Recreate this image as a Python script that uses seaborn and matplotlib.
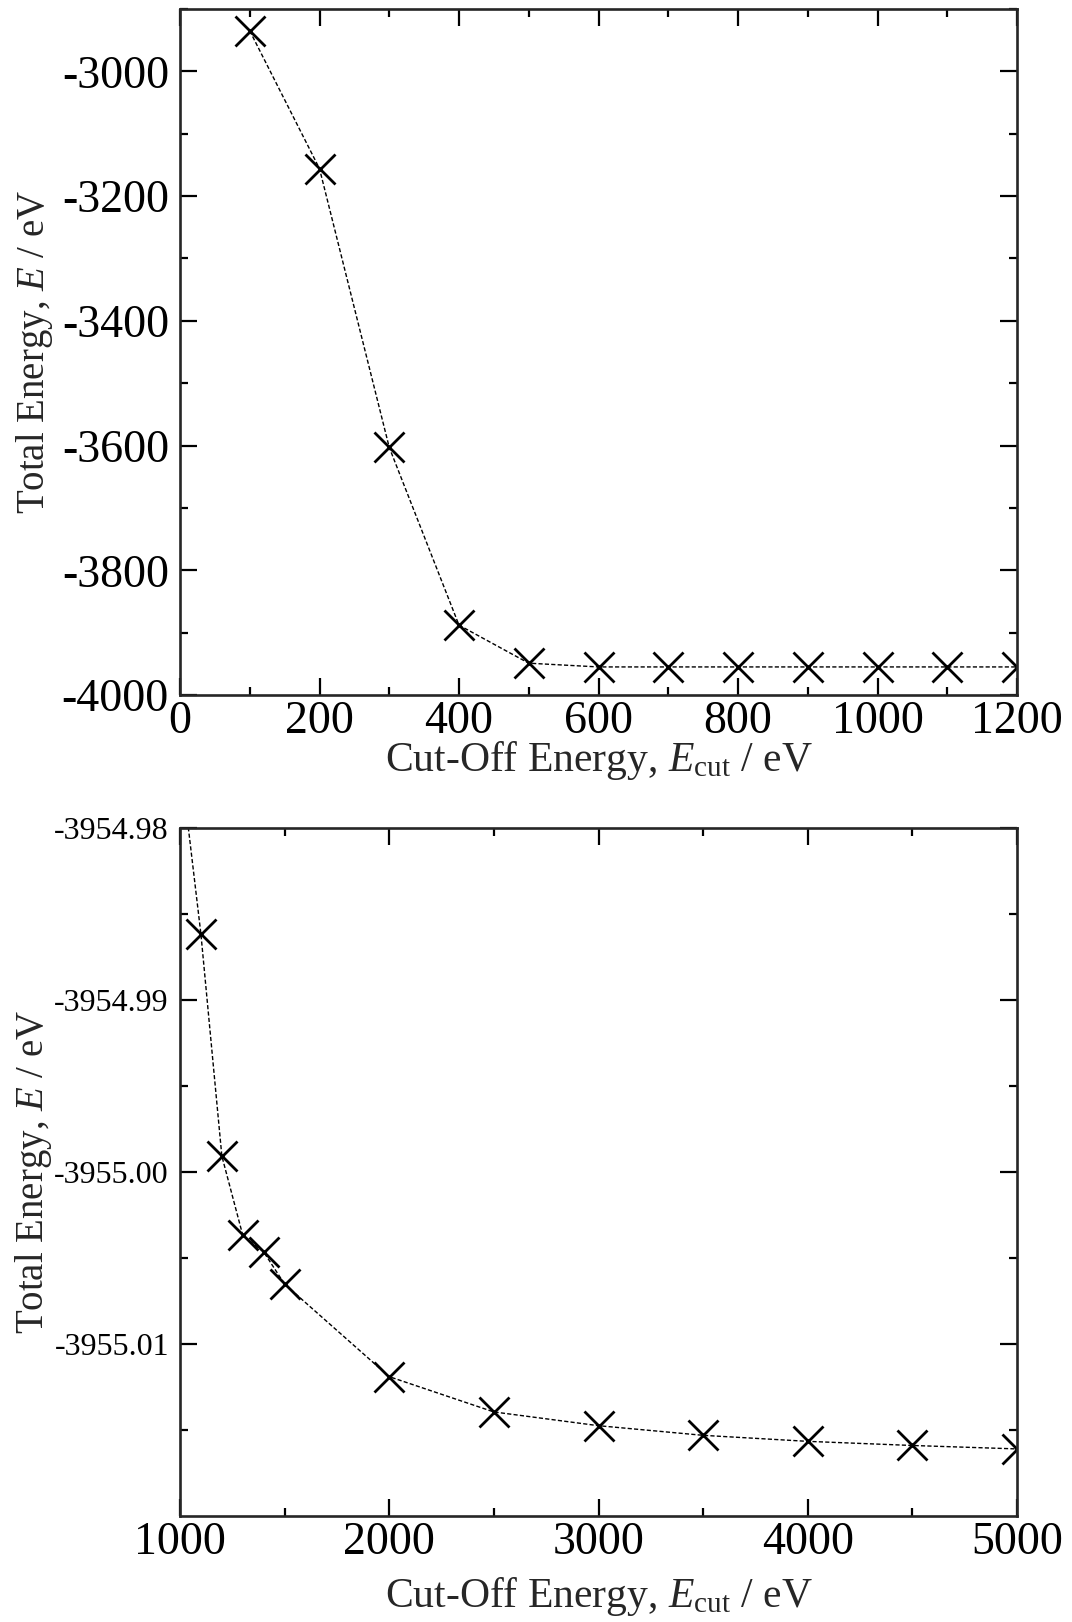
import numpy as np
import pandas as pd
import matplotlib
matplotlib.use("Agg")
import matplotlib.pyplot as plt
from matplotlib.ticker import MultipleLocator, FixedLocator, FormatStrFormatter
import seaborn as sns

# Convergence of total energy with plane-wave cut-off energy
cutoff_coarse = [100, 200, 300, 400, 500, 600, 700, 800, 900, 1000, 1100, 1200]
energy_coarse = [-2935.0, -3156.0, -3603.0, -3888.0, -3949.0, -3955.0, -3955.0,
                 -3955.0, -3955.0, -3955.0, -3955.0, -3955.0]

cutoff_fine = [1000, 1100, 1200, 1300, 1400, 1500, 2000, 2500, 3000, 3500, 4000, 4500, 5000]
energy_fine = [-3954.9759, -3954.98617, -3954.99907, -3955.00368, -3955.00465,
               -3955.00652, -3955.0119, -3955.01395, -3955.01475, -3955.01531,
               -3955.01566, -3955.0159, -3955.0161]

coarse_df = pd.DataFrame({"cutoff": cutoff_coarse, "energy": energy_coarse})
fine_df = pd.DataFrame({"cutoff": cutoff_fine, "energy": energy_fine})

sns.set_theme(style="ticks")
plt.rcParams["font.family"] = ["Liberation Serif", "DejaVu Serif"]
plt.rcParams["mathtext.fontset"] = "custom"
plt.rcParams["mathtext.rm"] = "Liberation Serif"
plt.rcParams["mathtext.it"] = "Liberation Serif:italic"
plt.rcParams["axes.unicode_minus"] = False

W, H = 1072, 1622
fig = plt.figure(figsize=(W / 100, H / 100), dpi=100)

def frac_axes(left, top, right, bottom):
    return fig.add_axes([left / W, 1 - bottom / H, (right - left) / W, (bottom - top) / H])

ax1 = frac_axes(180, 9, 1017, 695)
ax2 = frac_axes(180, 828, 1017, 1516)

line_kw = dict(color="black", linewidth=1.0, dashes=(3, 1.6), marker="x",
               markersize=21, markeredgewidth=2.0, markeredgecolor="black")

sns.lineplot(data=coarse_df, x="cutoff", y="energy", ax=ax1, **line_kw)
sns.lineplot(data=fine_df, x="cutoff", y="energy", ax=ax2, **line_kw)

xlabel = r"Cut-Off Energy, $E_{\rm cut}$ / eV"
ylabel = r"Total Energy, $E$ / eV"

for ax in (ax1, ax2):
    for s in ax.spines.values():
        s.set_linewidth(1.9)
        s.set_visible(True)
    ax.tick_params(which="both", direction="in", top=True, right=True, width=1.6, colors="black")
    ax.tick_params(which="major", length=12)
    ax.tick_params(which="minor", length=6)

ax1.set_xlabel(xlabel, fontsize=30, labelpad=-3)
ax1.set_ylabel(ylabel, fontsize=28, labelpad=5)
ax2.set_xlabel(xlabel, fontsize=30, labelpad=8)
ax2.set_ylabel(ylabel, fontsize=28, labelpad=0)

# coarse scan
ax1.set_xlim(0, 1200)
ax1.set_ylim(-4000, -2900)
ax1.xaxis.set_major_locator(MultipleLocator(200))
ax1.xaxis.set_minor_locator(MultipleLocator(100))
ax1.yaxis.set_major_locator(FixedLocator([-4000, -3800, -3600, -3400, -3200, -3000]))
ax1.yaxis.set_minor_locator(MultipleLocator(100))
ax1.tick_params(axis="both", which="major", labelsize=33)
ax1.tick_params(axis="x", pad=4)
ax1.tick_params(axis="y", pad=8)

# fine scan
ax2.set_xlim(1000, 5000)
ax2.set_ylim(-3955.02, -3954.98)
ax2.xaxis.set_major_locator(MultipleLocator(1000))
ax2.xaxis.set_minor_locator(MultipleLocator(500))
ax2.yaxis.set_major_locator(FixedLocator([-3955.01, -3955.00, -3954.99, -3954.98]))
ax2.yaxis.set_minor_locator(FixedLocator([-3955.015, -3955.005, -3954.995, -3954.985]))
ax2.yaxis.set_major_formatter(FormatStrFormatter("%.2f"))
ax2.tick_params(axis="x", which="major", labelsize=33, pad=4)
ax2.tick_params(axis="y", which="major", labelsize=23, pad=8)

fig.savefig("out.png", dpi=100, facecolor="white")
